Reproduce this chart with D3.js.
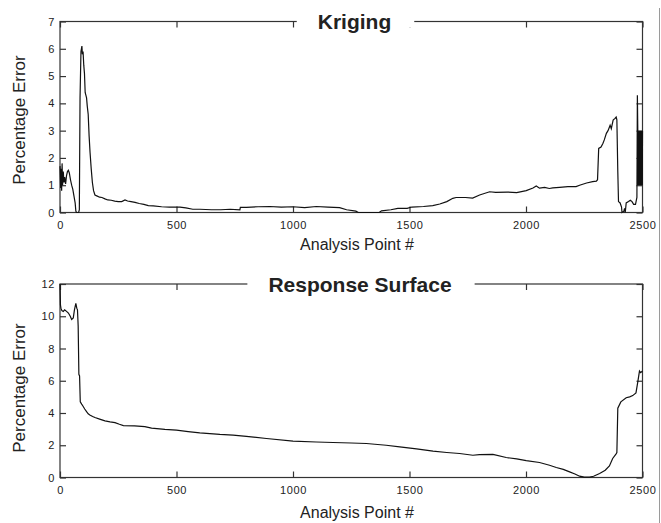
<!DOCTYPE html>
<html>
<head>
<meta charset="utf-8">
<script src="https://cdn.jsdelivr.net/npm/d3@7"></script>
<style>
  body { margin: 0; background: #fff; }
  text { font-family: "Liberation Sans", Arial, Helvetica, sans-serif; fill: #222; }
</style>
</head>
<body>
<div id="chart-area"></div>
<script>
/*
*    two error panels, kriging and response surface
*/

// x tick labels (shared)
var xTicks = [0, 500, 1000, 1500, 2000, 2500];

// Kriging panel
var krigTicks = [0, 1, 2, 3, 4, 5, 6, 7];
var krigIdx = [0, 3, 5, 7, 9, 11, 14, 17, 20, 24, 28, 32, 36, 40, 45, 50, 55, 60, 65, 68, 71, 80, 83, 86, 90, 92, 94, 96, 99, 102,
  105, 108, 111, 114, 117, 121, 125, 129, 134, 139, 144, 150, 160, 170, 180, 193, 205, 220, 235, 250, 265, 279, 290, 305,
  322, 340, 360, 379, 400, 436, 470, 515, 540, 570, 600, 650, 690, 730, 772, 774, 800, 850, 900, 950, 1000, 1050, 1100,
  1150, 1200, 1230, 1270, 1280, 1370, 1380, 1420, 1450, 1490, 1510, 1560, 1600, 1630, 1660, 1686, 1700, 1740, 1771,
  1801, 1844, 1870, 1920, 1960, 2001, 2030, 2044, 2058, 2080, 2100, 2115, 2144, 2180, 2215, 2230, 2260, 2286, 2302,
  2307, 2312, 2322, 2330, 2336, 2345, 2352, 2361, 2366, 2374, 2382, 2387, 2390, 2394, 2397, 2404, 2410, 2412, 2420,
  2423, 2426, 2430, 2440, 2448, 2455, 2462, 2470, 2476, 2478, 2480, 2481, 2482, 2483, 2484, 2485, 2486, 2487, 2488,
  2489, 2490, 2491, 2492, 2493, 2494, 2495, 2496, 2497, 2498, 2499, 2500];
var krigVal = [1.7, 0.9, 1.6, 0.8, 1.8, 1.0, 1.5, 1.1, 1.3, 1.05, 1.35, 1.5, 1.55, 1.45, 1.2, 1.0, 0.85, 0.6, 0.35, 0.05, 0, 0, 0.1, 4.2, 5.9, 6.0, 6.1, 5.8, 5.9, 5.4,
  5.1, 4.4, 4.3, 4.2, 3.9, 3.6, 2.8, 2.2, 1.6, 1.1, 0.8, 0.64, 0.6, 0.56, 0.55, 0.5, 0.46, 0.45, 0.42, 0.4, 0.4, 0.46, 0.42, 0.4,
  0.37, 0.33, 0.3, 0.25, 0.24, 0.21, 0.2, 0.2, 0.17, 0.12, 0.12, 0.1, 0.1, 0.12, 0.1, 0.19, 0.19, 0.21, 0.22, 0.2, 0.21, 0.18, 0.22,
  0.2, 0.18, 0.1, 0.05, 0, 0, 0.06, 0.1, 0.15, 0.15, 0.2, 0.22, 0.25, 0.31, 0.4, 0.52, 0.55, 0.55, 0.53,
  0.64, 0.76, 0.74, 0.75, 0.73, 0.8, 0.9, 0.97, 0.89, 0.92, 0.88, 0.9, 0.92, 0.95, 0.95, 1.0, 1.08, 1.13, 1.15,
  1.2, 2.35, 2.4, 2.53, 2.66, 2.9, 3.0, 3.2, 3.07, 3.39, 3.45, 3.5, 3.4, 1.5, 0.4, 0.35, 0.2, 0, 0.05,
  0.15, 0, 0.35, 0.4, 0.45, 0.4, 0.3, 0.3, 0.55, 4.3, 2.9, 1.0, 3.0, 1.0, 3.0, 1.0, 3.0, 1.0, 3.0, 1.0, 3.0,
  1.0, 3.0, 1.0, 3.0, 1.0, 3.0, 1.0, 3.0, 1.0, 3.0, 1.0, 3.0];

// Response surface panel
var rsTicks = [0, 2, 4, 6, 8, 10, 12];
var rsIdx = [0, 2, 4, 8, 14, 20, 28, 36, 44, 50, 57, 62, 68, 72, 75, 78, 81, 84, 87, 93, 99, 106, 114, 121, 128, 140, 150, 170,
  193, 215, 236, 255, 272, 320, 364, 393, 450, 500, 550, 600, 686, 743, 800, 886, 1000, 1100, 1172, 1250, 1315, 1400,
  1458, 1530, 1601, 1660, 1715, 1772, 1800, 1858, 1915, 1960, 2001, 2058, 2101, 2130, 2160, 2187, 2210, 2230, 2250,
  2273, 2290, 2316, 2340, 2358, 2372, 2386, 2390, 2394, 2407, 2430, 2445, 2458, 2472, 2480, 2487, 2492, 2500];
var rsVal = [12.0, 10.7, 10.5, 10.35, 10.3, 10.4, 10.3, 10.2, 10.0, 9.8, 9.9, 10.4, 10.8, 10.5, 10.4, 9.4, 6.4, 6.3, 4.69, 4.55, 4.42, 4.25, 4.08, 3.95, 3.88, 3.78, 3.72, 3.62,
  3.51, 3.45, 3.4, 3.3, 3.22, 3.2, 3.16, 3.06, 2.98, 2.94, 2.85, 2.77, 2.67, 2.63, 2.55, 2.42, 2.25, 2.2, 2.17, 2.14, 2.11, 2.0,
  1.9, 1.78, 1.63, 1.55, 1.49, 1.38, 1.42, 1.43, 1.24, 1.15, 1.05, 0.93, 0.76, 0.62, 0.5, 0.35, 0.22, 0.08, 0.02,
  0.02, 0.08, 0.25, 0.45, 0.72, 1.18, 1.45, 1.55, 4.3, 4.69, 4.95, 5.0, 5.08, 5.25, 5.95, 6.6, 6.5, 6.6];

var width = 661;
var height = 523;

var svg = d3.select("#chart-area")
	.append("svg")
	.attr("width", width)
	.attr("height", height);

// thin page border on the right
svg.append("line")
	.attr("x1", 659.5).attr("x2", 659.5)
	.attr("y1", 8).attr("y2", height)
	.attr("stroke", "#9a9a9a")
	.attr("stroke-width", 1);

var panels = [
	{ title: "Kriging", titleX: 354.5, idx: krigIdx, val: krigVal, yTicks: krigTicks, top: 21.5, bottom: 212.5, xLabelY: 250, yLabelMid: 120 },
	{ title: "Response Surface", titleX: 360, idx: rsIdx, val: rsVal, yTicks: rsTicks, top: 284, bottom: 477.5, xLabelY: 518, yLabelMid: 388 }
];

var left = 60, right = 642.5;

panels.forEach((p) => {
	var x = d3.scaleLinear()
		.domain([0, 2500])
		.range([left, right]);

	var y = d3.scaleLinear()
		.domain([0, d3.max(p.yTicks)])
		.range([p.bottom, p.top]);

	var g = svg.append("g");

	// frame
	g.append("rect")
		.attr("x", left)
		.attr("y", p.top)
		.attr("width", right - left)
		.attr("height", p.bottom - p.top)
		.attr("fill", "none")
		.attr("stroke", "#333")
		.attr("stroke-width", 1.2);

	// bottom axis, ticks inward
	var bottomAxis = d3.axisBottom(x)
		.tickValues(xTicks)
		.tickSizeInner(-6)
		.tickSizeOuter(0)
		.tickPadding(9)
		.tickFormat(d3.format("d"));
	g.append("g")
		.attr("class", "bottom axis")
		.attr("transform", "translate(0, " + p.bottom + ")")
		.call(bottomAxis);

	// top axis, ticks only
	g.append("g")
		.attr("class", "top axis")
		.attr("transform", "translate(0, " + p.top + ")")
		.call(d3.axisTop(x).tickValues(xTicks).tickSizeInner(-6).tickSizeOuter(0).tickFormat(""));

	// left axis
	var leftAxis = d3.axisLeft(y)
		.tickValues(p.yTicks)
		.tickSizeInner(-6)
		.tickSizeOuter(0)
		.tickPadding(5)
		.tickFormat(d3.format("d"));
	g.append("g")
		.attr("class", "left axis")
		.attr("transform", "translate(" + left + ", 0)")
		.call(leftAxis);

	// right axis, ticks only
	g.append("g")
		.attr("class", "right axis")
		.attr("transform", "translate(" + right + ", 0)")
		.call(d3.axisRight(y).tickValues(p.yTicks).tickSizeInner(-6).tickSizeOuter(0).tickFormat(""));

	g.selectAll(".axis path").remove();
	g.selectAll(".axis line").attr("stroke", "#333").attr("stroke-width", 1.2);
	g.selectAll(".axis text")
		.attr("font-size", "11px")
		.attr("letter-spacing", "0.6px")
		.attr("fill", "#333");

	// data line
	var pts = p.idx.map((d, i) => [d, p.val[i]]);
	var line = d3.line()
		.x((d) => x(d[0]))
		.y((d) => y(d[1]));
	g.append("path")
		.datum(pts)
		.attr("d", line)
		.attr("fill", "none")
		.attr("stroke", "#111")
		.attr("stroke-width", 1.2)
		.attr("stroke-linejoin", "miter");

	// title sitting on the top edge, white patch breaks the frame
	var patch = g.append("rect").attr("fill", "#fff");
	var title = g.append("text")
		.attr("x", p.titleX)
		.attr("y", p.top + 7.5)
		.attr("font-size", "21px")
		.attr("font-weight", "bold")
		.attr("text-anchor", "middle")
		.text(p.title);
	var bb = title.node().getBBox();
	patch
		.attr("x", bb.x - 21)
		.attr("y", p.top - 4)
		.attr("width", bb.width + 44)
		.attr("height", 10);

	// x axis label
	g.append("text")
		.attr("x", 357)
		.attr("y", p.xLabelY)
		.attr("font-size", "16px")
		.attr("text-anchor", "middle")
		.text("Analysis Point #");

	// y axis label
	g.append("text")
		.attr("x", -p.yLabelMid)
		.attr("y", 25)
		.attr("font-size", "17px")
		.attr("text-anchor", "middle")
		.attr("transform", "rotate(-90)")
		.text("Percentage Error");
});
</script>
</body>
</html>
